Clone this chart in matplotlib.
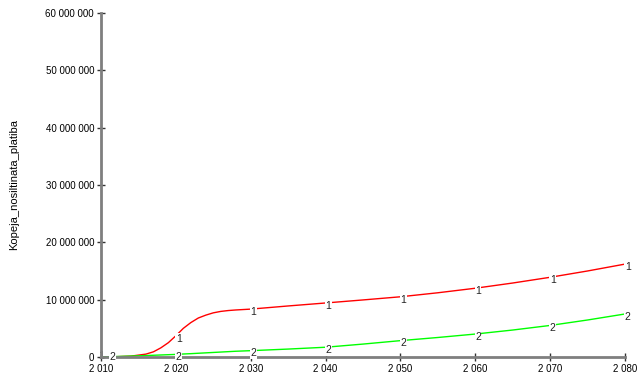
import matplotlib.pyplot as plt
from matplotlib.ticker import FuncFormatter, MultipleLocator

plt.rcParams['font.family'] = ['Liberation Sans', 'DejaVu Sans']

# Simulated insulated floor area, two scenarios
years = [2010, 2012, 2014, 2016, 2017, 2018, 2019, 2020, 2021, 2022, 2023, 2024,
         2025, 2026, 2027, 2028, 2030, 2035, 2040, 2045, 2050, 2055, 2060,
         2065, 2070, 2075, 2080]
area_1 = [0, 50000, 150000, 500000, 900000, 1600000, 2500000, 3700000, 5000000,
          6000000, 6800000, 7300000, 7700000, 7950000, 8100000, 8200000, 8350000,
          8900000, 9420000, 9950000, 10500000, 11200000, 11990000, 12900000,
          13900000, 15000000, 16200000]
area_2 = [0, 80000, 160000, 250000, 300000, 350000, 400000, 450000, 520000,
          580000, 650000, 720000, 790000, 860000, 930000, 1000000, 1100000,
          1380000, 1700000, 2250000, 2850000, 3400000, 4000000, 4700000,
          5500000, 6450000, 7500000]
label_years = [2010, 2020, 2030, 2040, 2050, 2060, 2070, 2080]

fig = plt.figure(figsize=(6.37, 3.74), dpi=100)
ax = fig.add_axes([0.1586, 0.0455, 0.8224, 0.9197])

ax.plot(years, area_1, color='#ff0000', lw=1)
ax.plot(years, area_2, color='#00ff00', lw=1)

# series number markers along each curve
for ys, name in [(area_1, '1'), (area_2, '2')]:
    for y in label_years:
        v = ys[years.index(y)]
        dx, dy = 2, -2
        if y == 2010:
            dx, dy = (0, 1) if name == '1' else (8, 0)
        ax.annotate(name, (y, v), xytext=(dx, dy), textcoords='offset points',
                    ha='center', va='center', fontsize=7.5, color='#222222',
                    bbox=dict(boxstyle='square,pad=0.05', fc='white', ec='none'),
                    annotation_clip=False, zorder=1 if y == 2010 and name == '1' else 3)

ax.set_xlim(2010, 2080)
ax.set_ylim(0, 60000000)
ax.xaxis.set_major_locator(MultipleLocator(10))
ax.yaxis.set_major_locator(MultipleLocator(10000000))
fmt = FuncFormatter(lambda v, p: f"{int(round(v)):,}".replace(',', ' '))
ax.xaxis.set_major_formatter(fmt)
ax.yaxis.set_major_formatter(fmt)

for s in ['top', 'right']:
    ax.spines[s].set_visible(False)
for s in ['left', 'bottom']:
    ax.spines[s].set_color('#7f7f7f')
    ax.spines[s].set_linewidth(2)
    ax.spines[s].set_zorder(2.5)
ax.tick_params(direction='inout', length=6, width=1, color='#333333',
               labelsize=7, pad=2)

ax.set_ylabel('Kopeja_nosiltinata_platiba', fontsize=8, labelpad=19)

fig.savefig('out.png', dpi=100)
